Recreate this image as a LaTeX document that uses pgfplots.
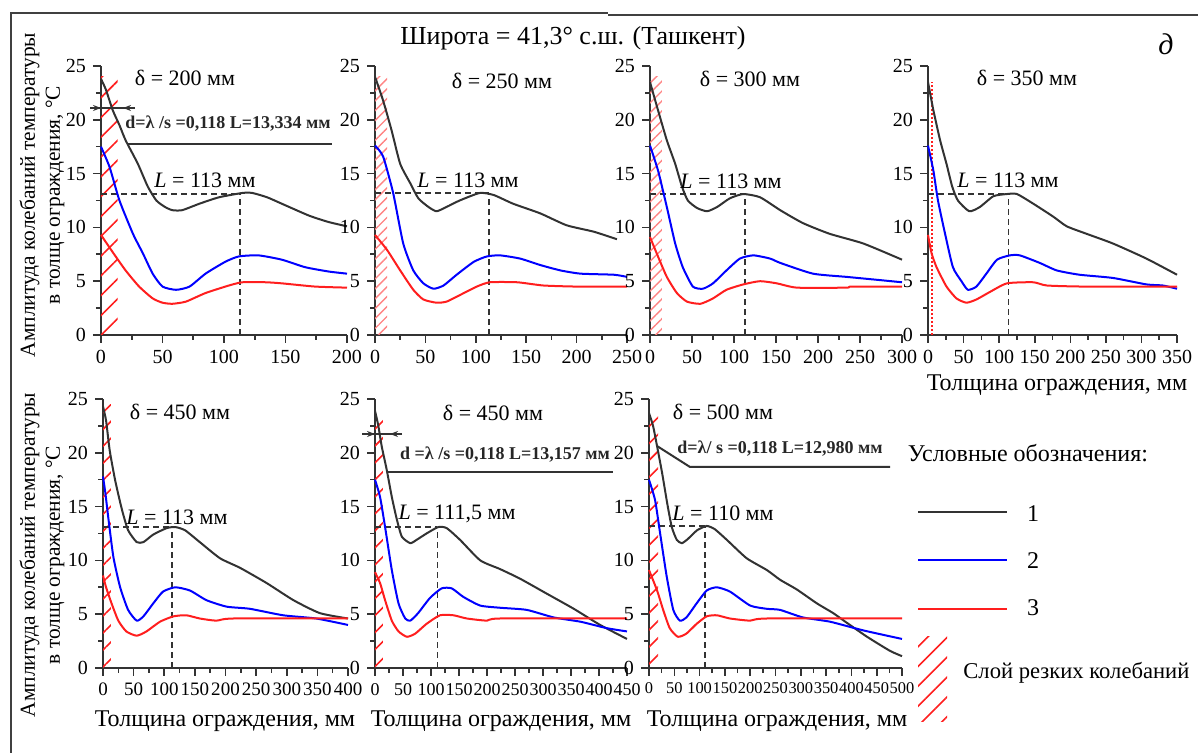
\documentclass[border=0pt]{standalone}
\usepackage{fontspec}
\setmainfont{Liberation Serif}
\usepackage{pgfplots}
\pgfplotsset{compat=1.18}
\usetikzlibrary{patterns.meta,arrows.meta}
\definecolor{cblack}{RGB}{50,50,50}
\definecolor{cblue}{RGB}{0,0,255}
\definecolor{cred}{RGB}{255,30,30}
\pgfplotsset{
 panel/.style={
  scale only axis, axis lines=left,
  axis line style={line width=0.9pt, black!80, -},
  ymin=0, ymax=25, ytick={0,5,...,25}, minor tick num=1,
  tick align=outside, major tick length=4pt, minor tick length=2.5pt,
  tick style={line width=0.8pt, black!80},
  ticklabel style={font=\fontsize{10}{10}\selectfont},
  /pgf/number format/assume math mode=true,
  height=134.5pt, clip=false, anchor=south west,
 },
}
\tikzset{
 k/.style={cblack, line width=1pt, line join=round, smooth, tension=0.35},
 b/.style={cblue, line width=1pt, line join=round, smooth, tension=0.35},
 r/.style={cred, line width=1pt, line join=round, smooth, tension=0.35},
 dsh/.style={black!80, line width=0.9pt, dash pattern=on 3pt off 2pt},
 hatchA/.style={draw=none, pattern={Lines[angle=45,distance=7pt,line width=0.8pt]}, pattern color=cred},
 hatchB/.style={draw=none, pattern={Lines[angle=45,distance=3.5pt,line width=0.7pt]}, pattern color=cred!55},
 hatchC/.style={draw=none, pattern={Lines[angle=45,distance=6pt,line width=0.8pt]}, pattern color=cred},
 ann/.style={font=\bfseries\fontsize{9}{9}\selectfont, text=black!85},
}
\begin{document}
\begin{tikzpicture}
\useasboundingbox (0,0) rectangle (599pt,376.5pt);
% ---------- Panel 1 ----------
\begin{axis}[panel, at={(50.5pt,209pt)}, width=123pt, xmin=0, xmax=200, xtick={0,50,...,200}]
\fill[hatchA] (axis cs:0,0) rectangle (axis cs:13.5,24);
\draw[dsh] (axis cs:0,13.1) -- (axis cs:113,13.1);
\draw[dsh] (axis cs:113,0) -- (axis cs:113,13.1);
\addplot[k] coordinates {(0,23.8)(4,22.8)(9.5,20.9)(15,19.5)(20,18.1)(30,15.9)(38,13.8)(45,12.5)(52,11.9)(58,11.6)(66,11.6)(80,12.2)(96,12.8)(115,13.2)(123,13.2)(135,12.8)(147,12.2)(169,11.1)(185,10.5)(200,10.1)};
\addplot[b] coordinates {(0,17.5)(7,15.6)(15,12.5)(26,9.4)(34,7.6)(42,5.7)(50,4.5)(61,4.2)(72,4.5)(85,5.7)(101,6.8)(112,7.3)(128,7.4)(147,7.0)(166,6.3)(185,5.9)(200,5.7)};
\addplot[r] coordinates {(0,9.3)(9.5,7.7)(20,6.0)(31,4.5)(42,3.4)(50,3.0)(58,2.9)(69,3.1)(85,3.9)(104,4.6)(115,4.9)(134,4.9)(147,4.8)(174,4.5)(200,4.4)};
\end{axis}
% ---------- Panel 2 ----------
\begin{axis}[panel, at={(187.5pt,209pt)}, width=126pt, xmin=0, xmax=250, xtick={0,50,...,250}]
\fill[hatchB] (axis cs:0,0) rectangle (axis cs:12,24);
\draw[dsh] (axis cs:0,13.2) -- (axis cs:113,13.2);
\draw[dsh] (axis cs:113,0) -- (axis cs:113,13.2);
\addplot[k] coordinates {(0,24.0)(8,21.8)(16.5,19.0)(25,15.9)(35,14.1)(43,12.7)(53,11.9)(61,11.5)(71,11.9)(84,12.5)(104,13.2)(118,13.0)(137,12.2)(164,11.3)(190,10.2)(217,9.6)(240,8.9)};
\addplot[b] coordinates {(0,17.6)(8,16.6)(18,13.2)(28,8.5)(38,6.0)(48,4.8)(58,4.3)(68,4.6)(81,5.6)(98,6.8)(111,7.3)(124,7.4)(144,7.1)(164,6.5)(184,6.0)(204,5.7)(237,5.6)(250,5.4)};
\addplot[r] coordinates {(0,9.3)(12,7.9)(25,6.0)(38,4.2)(48,3.3)(61,3.0)(71,3.1)(84,3.7)(101,4.5)(114,4.9)(141,4.9)(167,4.6)(200,4.5)(250,4.5)};
\end{axis}
% ---------- Panel 3 ----------
\begin{axis}[panel, at={(325pt,209pt)}, width=126pt, xmin=0, xmax=300, xtick={0,50,...,300}]
\fill[hatchB] (axis cs:0,0) rectangle (axis cs:14,24);
\draw[dsh] (axis cs:0,13.1) -- (axis cs:113,13.1);
\draw[dsh] (axis cs:113,0) -- (axis cs:113,13.1);
\addplot[k] coordinates {(0,23.5)(9.5,20.9)(20,18.1)(30,15.9)(38,13.8)(45,12.5)(56,11.8)(68,11.5)(80,11.9)(95,12.7)(111,13.1)(131,12.8)(155,11.6)(182,10.4)(214,9.4)(254,8.5)(300,7.0)};
\addplot[b] coordinates {(0,17.6)(9.5,15.3)(20,11.9)(30,8.5)(39,6.3)(51,4.5)(63,4.3)(75,4.8)(91,6.0)(107,7.1)(123,7.4)(143,7.1)(155,6.7)(194,5.7)(234,5.4)(274,5.1)(300,4.9)};
\addplot[r] coordinates {(0,9.1)(9.5,7.3)(20,5.4)(32,3.9)(44,3.1)(60,2.9)(75,3.4)(91,4.2)(111,4.7)(131,5.0)(151,4.8)(175,4.4)(234,4.4)(240,4.5)(300,4.5)};
\end{axis}
% ---------- Panel 4 ----------
\begin{axis}[panel, at={(464pt,209pt)}, width=124.5pt, xmin=0, xmax=350, xtick={0,50,...,350}]
\draw[cred, line width=1pt, densely dotted] (axis cs:5,0) -- (axis cs:5,23.5);
\draw[dsh] (axis cs:0,13.1) -- (axis cs:113,13.1);
\draw[dsh] (axis cs:113,0) -- (axis cs:113,13.1);
\addplot[k] coordinates {(0,23.5)(7.5,20.9)(17,18.1)(26,15.9)(34,13.8)(42,12.5)(58,11.5)(73,11.9)(92,12.9)(111,13.1)(125,13.1)(148,12.2)(176,11.0)(195,10.1)(223,9.4)(260,8.5)(307,7.1)(350,5.6)};
\addplot[b] coordinates {(0,17.6)(7.5,15.3)(14,12.5)(24,9.4)(35,6.3)(47,5.0)(56,4.2)(68,4.5)(82,5.7)(97,7.0)(115,7.4)(129,7.4)(157,6.7)(181,6.0)(213,5.6)(260,5.3)(307,4.7)(330,4.6)(350,4.3)};
\addplot[r] coordinates {(0,9.3)(5,7.6)(12,6.3)(26,4.5)(40,3.4)(54,3.0)(68,3.3)(87,4.0)(111,4.8)(148,4.9)(167,4.6)(220,4.5)(350,4.5)};
\end{axis}
% ---------- Panel 5 ----------
\begin{axis}[panel, at={(51.5pt,42.5pt)}, width=122.5pt, xmin=0, xmax=400, xtick={0,50,...,400},
  xticklabel style={font=\fontsize{9.5}{9.5}\selectfont}]
\fill[hatchC] (axis cs:0,0) rectangle (axis cs:13,24.5);
\draw[dsh] (axis cs:0,13.1) -- (axis cs:113,13.1);
\draw[dsh] (axis cs:113,0) -- (axis cs:113,13.1);
\addplot[k] coordinates {(0,24.3)(5,23.0)(11,20.2)(20,17.4)(31,14.7)(41,12.8)(55,11.7)(66,11.7)(82,12.4)(104,13.0)(118,13.1)(134,12.8)(158,11.7)(191,10.2)(224,9.3)(267,7.9)(311,6.3)(354,5.1)(400,4.6)};
\addplot[b] coordinates {(0,17.8)(4,16.2)(9,13.8)(17,10.3)(28,7.5)(41,5.4)(55,4.4)(66,4.8)(82,6.0)(98,7.1)(118,7.5)(142,7.2)(169,6.3)(202,5.7)(240,5.5)(294,4.9)(348,4.6)(400,4.0)};
\addplot[r] coordinates {(0,8.6)(5,7.5)(14,6.0)(25,4.4)(38,3.4)(55,3.0)(71,3.4)(93,4.3)(115,4.8)(136,4.9)(158,4.6)(185,4.4)(213,4.6)(400,4.6)};
\end{axis}
% ---------- Panel 6 ----------
\begin{axis}[panel, at={(187.5pt,42.5pt)}, width=126pt, xmin=0, xmax=450, xtick={0,50,...,450},
  xticklabel style={font=\fontsize{9}{9}\selectfont}]
\fill[hatchC] (axis cs:0,0) rectangle (axis cs:14,23.5);
\draw[dsh] (axis cs:0,13.1) -- (axis cs:111.5,13.1);
\draw[dsh] (axis cs:111.5,0) -- (axis cs:111.5,13.1);
\addplot[k] coordinates {(0,23.9)(6,22.5)(12,20.6)(21,18.4)(30,15.9)(39,13.8)(48,12.2)(63,11.6)(74,11.9)(92,12.5)(113,13.1)(128,13.0)(152,11.9)(188,10.0)(223,9.2)(259,8.3)(307,6.9)(355,5.5)(402,4.0)(450,2.7)};
\addplot[b] coordinates {(0,17.5)(9,15.9)(18,13.1)(30,9.1)(42,6.0)(54,4.6)(63,4.4)(77,5.1)(98,6.5)(119,7.4)(137,7.4)(158,6.6)(188,5.8)(223,5.6)(271,5.4)(319,4.7)(367,4.3)(414,3.7)(450,3.4)};
\addplot[r] coordinates {(0,8.9)(9,7.9)(18,6.3)(30,4.4)(42,3.4)(57,2.9)(72,3.2)(92,4.1)(116,4.9)(140,4.9)(164,4.6)(200,4.4)(223,4.6)(450,4.6)};
\end{axis}
% ---------- Panel 7 ----------
\begin{axis}[panel, at={(324.5pt,42.5pt)}, width=126.5pt, xmin=0, xmax=500, xtick={0,50,...,500},
  xticklabel style={font=\fontsize{8.2}{8.2}\selectfont}]
\fill[hatchC] (axis cs:0,0) rectangle (axis cs:18,23.5);
\draw[dsh] (axis cs:0,13.2) -- (axis cs:110,13.2);
\draw[dsh] (axis cs:110,0) -- (axis cs:110,13.2);
\addplot[k] coordinates {(0,23.7)(8,22.5)(16,20.6)(26,18.1)(36,15.3)(45,13.1)(55,11.9)(65,11.6)(77,12.0)(95,12.8)(114,13.2)(130,12.9)(154,11.9)(193,10.2)(233,9.1)(259,8.2)(292,7.3)(332,6.0)(364,5.1)(391,4.2)(431,2.9)(476,1.6)(500,1.1)};
\addplot[b] coordinates {(0,17.5)(12,15.6)(22,12.5)(35,8.5)(48,5.4)(61,4.4)(74,4.7)(94,6.0)(114,7.2)(134,7.5)(160,7.1)(200,5.8)(233,5.5)(259,5.4)(304,4.7)(358,4.3)(423,3.5)(500,2.7)};
\addplot[r] coordinates {(0,9.1)(16,7.2)(28,5.4)(41,3.7)(57,2.9)(74,3.2)(94,4.1)(114,4.8)(134,4.9)(160,4.6)(200,4.4)(233,4.6)(500,4.6)};
\end{axis}
% ---------- texts and decorations (pixel coordinates) ----------
\begin{scope}[x=0.5pt,y=-0.5pt,shift={(0pt,376.5pt)}]
% frame
\draw[black!75, line width=1.2pt] (11,753) -- (11,13) -- (608,13);
\draw[black!75, line width=1.2pt] (608,15) -- (1198,15);
% title
\node[font=\fontsize{13}{13}\selectfont] at (573,38) {Широта = 41,3° с.ш. (Ташкент)};
\node[font=\itshape\fontsize{15}{15}\selectfont] at (1166,44) {д};
% y labels
\node[rotate=90, align=center, font=\fontsize{10.7}{12.5}\selectfont] at (42,195) {Амплитуда колебаний температуры\\в толще ограждения, °C};
\node[rotate=90, align=center, font=\fontsize{10.7}{12.5}\selectfont] at (42,555) {Амплитуда колебаний температуры\\в толще ограждения, °C};
% x labels
\node[font=\fontsize{12}{12}\selectfont] at (1057,385) {Толщина ограждения, мм};
\node[font=\fontsize{12}{12}\selectfont] at (225,721) {Толщина ограждения, мм};
\node[font=\fontsize{12}{12}\selectfont] at (501,721) {Толщина ограждения, мм};
\node[font=\fontsize{12}{12}\selectfont] at (777,721) {Толщина ограждения, мм};
% delta labels
\node[font=\fontsize{11}{11}\selectfont] at (185,78) {δ = 200 мм};
\node[font=\fontsize{11}{11}\selectfont] at (502,81) {δ = 250 мм};
\node[font=\fontsize{11}{11}\selectfont] at (750,79) {δ = 300 мм};
\node[font=\fontsize{11}{11}\selectfont] at (1027,78) {δ = 350 мм};
\node[font=\fontsize{11}{11}\selectfont] at (180,412) {δ = 450 мм};
\node[font=\fontsize{11}{11}\selectfont] at (493,413) {δ = 450 мм};
\node[font=\fontsize{11}{11}\selectfont] at (723,412) {δ = 500 мм};
% L labels
\node[font=\fontsize{11}{11}\selectfont] at (205,180) {\textit{L} = 113 мм};
\node[font=\fontsize{11}{11}\selectfont] at (468,180) {\textit{L} = 113 мм};
\node[font=\fontsize{11}{11}\selectfont] at (731,181) {\textit{L} = 113 мм};
\node[font=\fontsize{11}{11}\selectfont] at (1008,180) {\textit{L} = 113 мм};
\node[font=\fontsize{11}{11}\selectfont] at (177,517) {\textit{L} = 113 мм};
\node[font=\fontsize{11}{11}\selectfont] at (457,514) {\textit{L} = 111,5 мм};
\node[font=\fontsize{11}{11}\selectfont] at (723,513) {\textit{L} = 110 мм};
% annotations d = lambda/s
\draw[black!80, line width=0.8pt] (90,108) -- (135,108);
\draw[black!80, line width=0.8pt, -{Stealth[length=4pt]}] (90,108) -- (101,108);
\draw[black!80, line width=0.8pt, -{Stealth[length=4pt]}] (135,108) -- (123,108);
\node[ann] at (228,124) {d=λ /s =0,118 L=13,334 мм};
\draw[cblack, line width=1pt] (127,144) -- (332,144);
\draw[black!80, line width=0.8pt] (362,434) -- (402,434);
\draw[black!80, line width=0.8pt, -{Stealth[length=4pt]}] (362,434) -- (375,434);
\draw[black!80, line width=0.8pt, -{Stealth[length=4pt]}] (402,434) -- (390,434);
\node[ann] at (505,455) {d =λ /s =0,118 L=13,157 мм};
\draw[cblack, line width=1pt] (388,472) -- (613,472);
\node[ann] at (780,449) {d=λ/ s =0,118 L=12,980 мм};
\draw[cblack, line width=1pt] (657,446) -- (690,467) -- (890,467);
% legend
\node[font=\fontsize{12}{12}\selectfont] at (1028,453) {Условные обозначения:};
\draw[cblack, line width=1.2pt] (918,512) -- (1007,512);
\draw[cblue, line width=1.2pt] (918,560) -- (1007,560);
\draw[cred, line width=1.2pt] (918,609) -- (1007,609);
\node[font=\fontsize{12}{12}\selectfont] at (1033,514) {1};
\node[font=\fontsize{12}{12}\selectfont] at (1033,561) {2};
\node[font=\fontsize{12}{12}\selectfont] at (1033,608) {3};
\fill[hatchA] (918,637) rectangle (947,722);
\node[font=\fontsize{11.3}{11.3}\selectfont, anchor=west, inner xsep=0pt] at (963,673) {Слой резких колебаний};
\end{scope}
\end{tikzpicture}
\end{document}
